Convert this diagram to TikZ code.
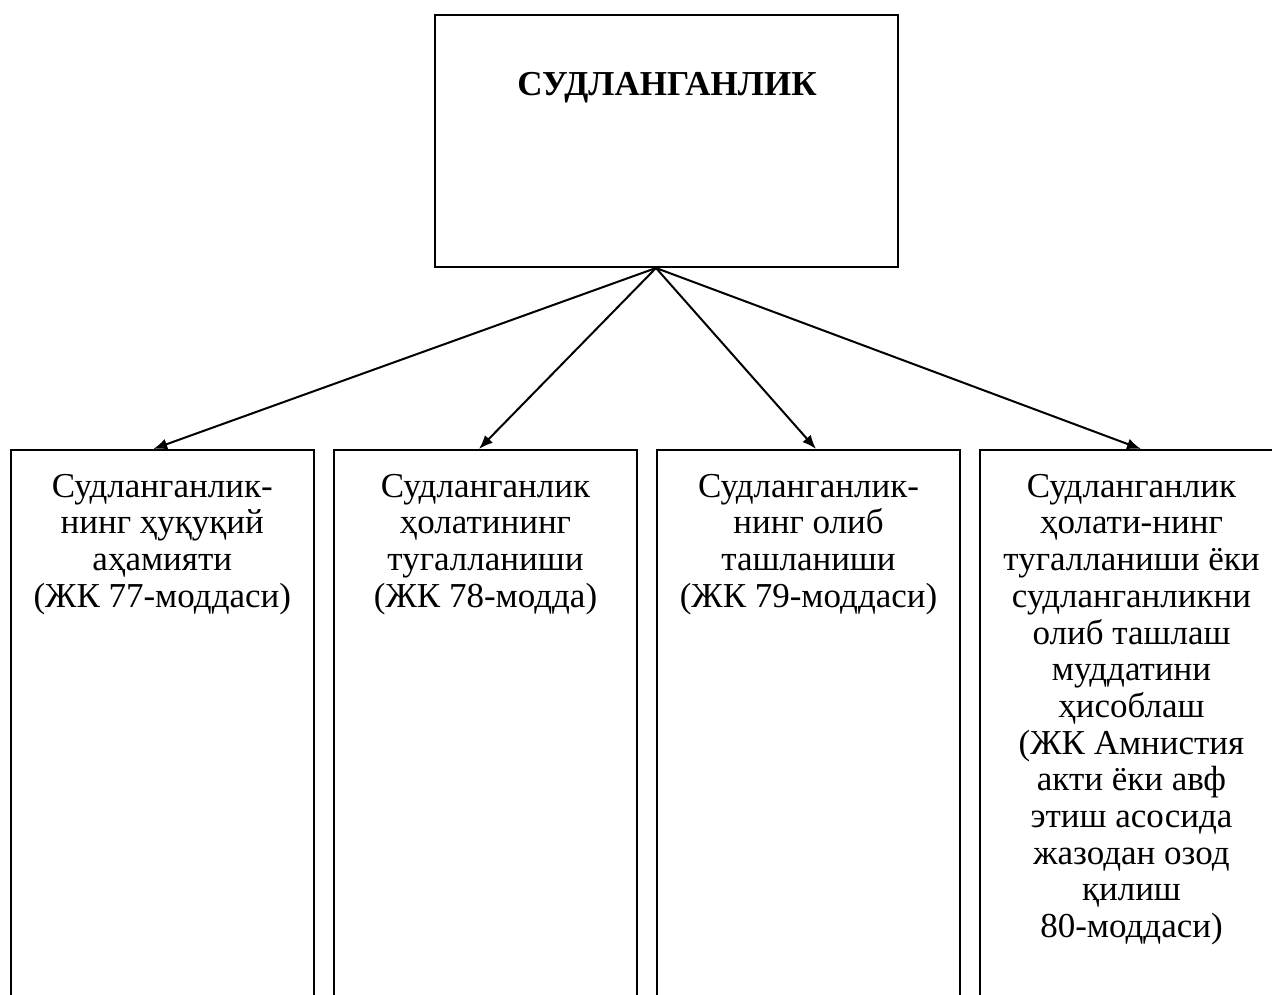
\documentclass[tikz,border=0pt]{standalone}
\usepackage{fontspec}
\setmainfont{Liberation Serif}
\usetikzlibrary{arrows.meta}
\begin{document}
\begin{tikzpicture}[x=1pt,y=-1pt,
  box/.style={draw,line width=2pt,inner sep=0pt},
  txt/.style={font=\fontsize{35}{36.7}\selectfont,align=center,anchor=north,inner sep=0pt},
  arr/.style={line width=2pt,-{Latex[length=14pt,width=11pt]}}]
\clip (0,0) rectangle (1272,994);
\node[box,minimum width=463pt,minimum height=252pt,anchor=north west] (top) at (434,14) {};
\node[font=\bfseries\fontsize{35}{37}\selectfont,anchor=base,inner sep=0pt] (title) at (667,95) {СУДЛАНГАНЛИК};
\node[box,minimum width=303.5pt,minimum height=600pt,anchor=north west] (b1) at (9.5,449) {};
\node[box,minimum width=303pt,minimum height=600pt,anchor=north west] (b2) at (333,449) {};
\node[box,minimum width=303pt,minimum height=600pt,anchor=north west] (b3) at (656,449) {};
\node[box,minimum width=303pt,minimum height=600pt,anchor=north west] (b4) at (979,449) {};
\node[txt] (t1) at (b1.north |- 0,471.3) {\strut Судланганлик-\\нинг ҳуқуқий\\аҳамияти\\(ЖК 77-моддаси)};
\node[txt] (t2) at (b2.north |- 0,471.3) {\strut Судланганлик\\ҳолатининг\\тугалланиши\\(ЖК 78-модда)};
\node[txt] (t3) at (b3.north |- 0,471.3) {\strut Судланганлик-\\нинг олиб\\ташланиши\\(ЖК 79-моддаси)};
\node[txt] (t4) at (b4.north |- 0,471.3) {\strut Судланганлик\\ҳолати-нинг\\тугалланиши ёки\\судланганликни\\олиб ташлаш\\муддатини\\ҳисоблаш\\(ЖК Амнистия\\акти ёки авф\\этиш асосида\\жазодан озод\\қилиш\\80-моддаси)};
\draw[arr] ([xshift=-10.5pt]top.south) -- ([xshift=-9pt]b1.north);
\draw[arr] ([xshift=-10.5pt]top.south) -- ([xshift=-6.5pt]b2.north);
\draw[arr] ([xshift=-10.5pt]top.south) -- ([xshift=7.5pt]b3.north);
\draw[arr] ([xshift=-10.5pt]top.south) -- ([xshift=9.5pt]b4.north);
\end{tikzpicture}
\end{document}
